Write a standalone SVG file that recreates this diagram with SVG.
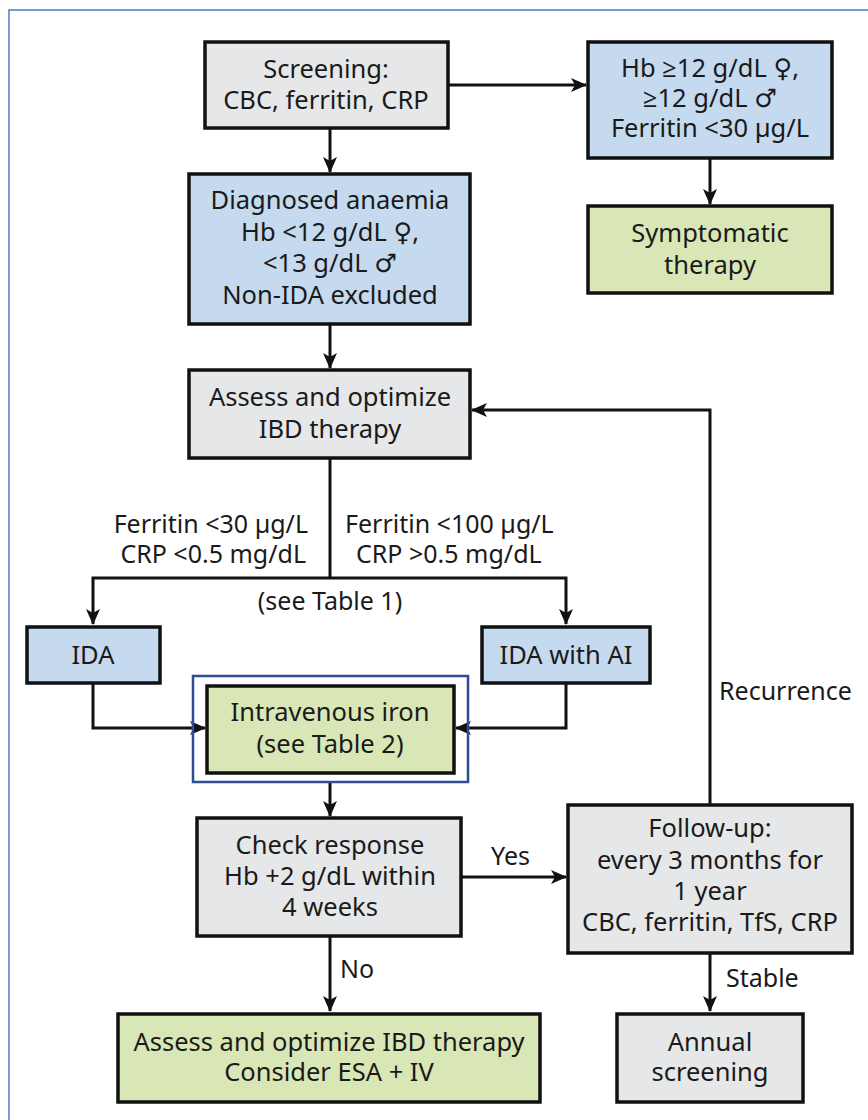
<svg xmlns="http://www.w3.org/2000/svg" width="868" height="1120" viewBox="0 0 868 1120">
<style>
.t{font-family:"Noto Sans","Open Sans","DejaVu Sans",sans-serif;font-size:25.5px;fill:#1a1a1a;text-anchor:middle}
.l{font-family:"Noto Sans","Open Sans","DejaVu Sans",sans-serif;font-size:25px;fill:#1a1a1a}
.g{fill:#e6e7e8;stroke:#111;stroke-width:3.5}
.b{fill:#c5d9ef;stroke:#111;stroke-width:3.5}
.v{fill:#d9e6b5;stroke:#111;stroke-width:3.5}
.c{fill:none;stroke:#111;stroke-width:3}
</style>
<defs>
<marker id="ah" viewBox="0 0 16 14" refX="15" refY="7" markerWidth="16" markerHeight="14" orient="auto" markerUnits="userSpaceOnUse">
<path d="M0,0 L16,7 L0,14 L4,7 Z" fill="#111"/>
</marker>
</defs>
<rect x="0" y="0" width="868" height="1120" fill="#fff"/>
<path d="M9,1120 V10 H868" fill="none" stroke="#4a7cc9" stroke-width="1.5"/>
<g id="connectors">
<line class="c" x1="448" y1="85" x2="586" y2="85" marker-end="url(#ah)"/>
<line class="c" x1="330" y1="128" x2="330" y2="172" marker-end="url(#ah)"/>
<line class="c" x1="710" y1="158" x2="710" y2="204" marker-end="url(#ah)"/>
<line class="c" x1="330" y1="324" x2="330" y2="368" marker-end="url(#ah)"/>
<polyline class="c" points="330,458 330,578"/>
<polyline class="c" points="330,578 93,578 93,624" marker-end="url(#ah)"/>
<polyline class="c" points="330,578 566,578 566,624" marker-end="url(#ah)"/>
<polyline class="c" points="93,683 93,728 205,728" marker-end="url(#ah)"/>
<polyline class="c" points="566,683 566,728 456,728" marker-end="url(#ah)"/>
<line class="c" x1="330" y1="782" x2="330" y2="816" marker-end="url(#ah)"/>
<line class="c" x1="461" y1="877" x2="566" y2="877" marker-end="url(#ah)"/>
<line class="c" x1="330" y1="936" x2="330" y2="1011" marker-end="url(#ah)"/>
<line class="c" x1="710" y1="953" x2="710" y2="1011" marker-end="url(#ah)"/>
<polyline class="c" points="710,805 710,410 472,410" marker-end="url(#ah)"/>
<text class="l" x="308" y="533" text-anchor="end">Ferritin &lt;30 µg/L</text>
<text class="l" x="306" y="563" text-anchor="end">CRP &lt;0.5 mg/dL</text>
<text class="l" x="345" y="533">Ferritin &lt;100 µg/L</text>
<text class="l" x="356" y="563">CRP &gt;0.5 mg/dL</text>
<text class="l" x="330" y="610" text-anchor="middle">(see Table 1)</text>
<text class="l" x="719" y="700">Recurrence</text>
<text class="l" x="491" y="865">Yes</text>
<text class="l" x="340" y="978">No</text>
<text class="l" x="726" y="987">Stable</text>
</g>
<g id="screening">
<rect class="g" x="205" y="42" width="243" height="86"/>
<text class="t" x="326" y="78">Screening:</text>
<text class="t" x="326" y="109">CBC, ferritin, CRP</text>
</g>
<g id="hb-normal">
<rect class="b" x="588" y="42" width="244" height="116"/>
<text class="t" x="710" y="77">Hb ≥12 g/dL ♀,</text>
<text class="t" x="710" y="107">≥12 g/dL ♂</text>
<text class="t" x="710" y="137">Ferritin &lt;30 µg/L</text>
</g>
<g id="symptomatic">
<rect class="v" x="588" y="206" width="244" height="87"/>
<text class="t" x="710" y="242">Symptomatic</text>
<text class="t" x="710" y="274">therapy</text>
</g>
<g id="diagnosed">
<rect class="b" x="189" y="174" width="281" height="150"/>
<text class="t" x="330" y="209">Diagnosed anaemia</text>
<text class="t" x="330" y="241">Hb &lt;12 g/dL ♀,</text>
<text class="t" x="330" y="272">&lt;13 g/dL ♂</text>
<text class="t" x="330" y="304">Non-IDA excluded</text>
</g>
<g id="assess">
<rect class="g" x="189" y="370" width="281" height="88"/>
<text class="t" x="330" y="406">Assess and optimize</text>
<text class="t" x="330" y="438">IBD therapy</text>
</g>
<g id="ida">
<rect class="b" x="27" y="627" width="133" height="56"/>
<text class="t" x="93" y="664">IDA</text>
</g>
<g id="ida-ai">
<rect class="b" x="482" y="627" width="168" height="56"/>
<text class="t" x="566" y="664">IDA with AI</text>
</g>
<g id="iv-iron">
<rect x="193" y="676" width="275" height="106" fill="none" stroke="#2e4d94" stroke-width="2.5"/>
<rect class="v" x="207" y="686" width="247" height="87"/>
<text class="t" x="330" y="721">Intravenous iron</text>
<text class="t" x="330" y="753">(see Table 2)</text>
</g>
<g id="check">
<rect class="g" x="197" y="818" width="264" height="118"/>
<text class="t" x="330" y="854">Check response</text>
<text class="t" x="330" y="885">Hb +2 g/dL within</text>
<text class="t" x="330" y="916">4 weeks</text>
</g>
<g id="followup">
<rect class="g" x="568" y="805" width="284" height="148"/>
<text class="t" x="710" y="837">Follow-up:</text>
<text class="t" x="710" y="869">every 3 months for</text>
<text class="t" x="710" y="900">1 year</text>
<text class="t" x="710" y="931">CBC, ferritin, TfS, CRP</text>
</g>
<g id="esa">
<rect class="v" x="118" y="1014" width="422" height="88"/>
<text class="t" x="329" y="1051">Assess and optimize IBD therapy</text>
<text class="t" x="329" y="1081">Consider ESA + IV</text>
</g>
<g id="annual">
<rect class="g" x="617" y="1014" width="186" height="88"/>
<text class="t" x="710" y="1051">Annual</text>
<text class="t" x="710" y="1081">screening</text>
</g>
</svg>
